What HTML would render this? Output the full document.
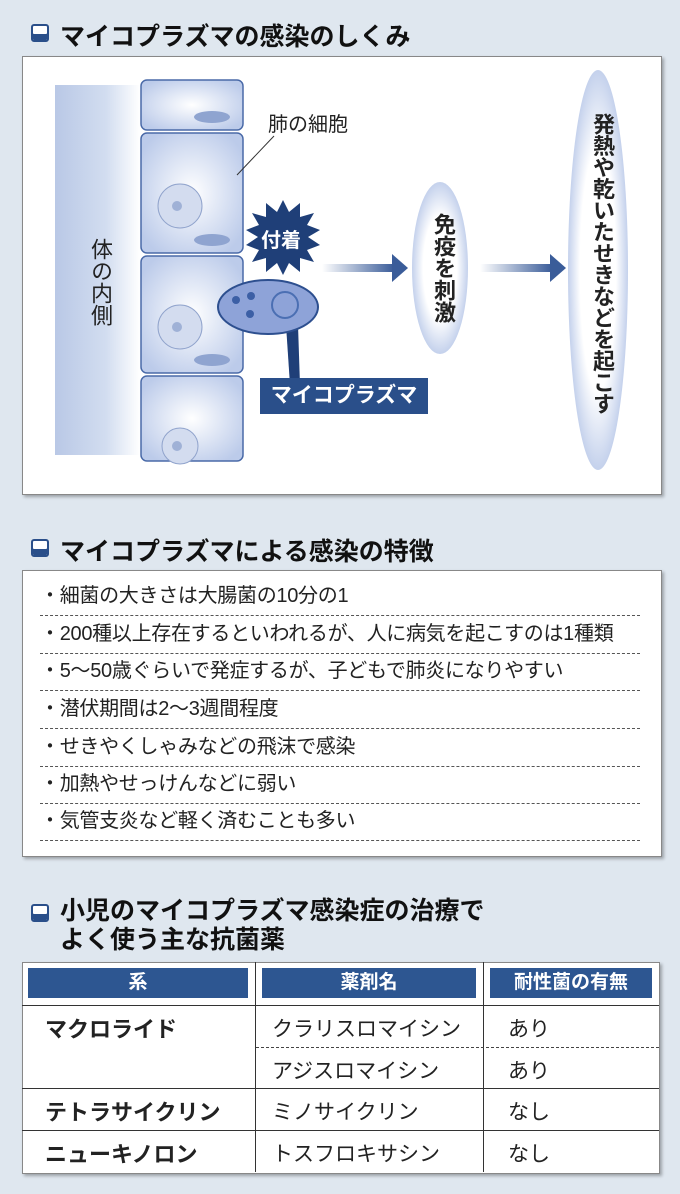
<!DOCTYPE html>
<html><head><meta charset="utf-8"><style>
body{margin:0;width:680px;height:1194px;background:#dfe7ef;position:relative;font-family:"Liberation Sans","Noto Sans CJK JP",sans-serif;overflow:hidden;color:#222}
.a{position:absolute}
.t{font-size:25px;font-weight:bold;color:#111;white-space:nowrap}
.ic{width:14px;height:14px;border:2px solid #2a4f8a;background:#fff;border-radius:3px;box-shadow:inset 0 -6px 0 #2a4f8a}
.panel{background:#fff;border:1px solid #888;box-shadow:2px 2px 3px rgba(0,0,0,.3)}
.vt{writing-mode:vertical-rl;white-space:nowrap}
.row{left:40px;font-size:20px;white-space:nowrap;height:37px;width:600px;border-bottom:1px dashed #555;line-height:36px;letter-spacing:-0.3px}
.hd{background:#2d5691;color:#fff;font-weight:bold;font-size:19px;text-align:center;line-height:30px;height:30px;top:968px}
.c{font-size:21px;white-space:nowrap}
.b{font-weight:bold;font-size:22px}
</style></head><body>
<div class="a ic" style="left:31px;top:24px"></div>
<div class="a t" style="left:60px;top:17px">マイコプラズマの感染のしくみ</div>
<div class="a panel" style="left:22px;top:56px;width:638px;height:437px"></div>
<div class="a" style="left:55px;top:85px;width:85px;height:370px;background:linear-gradient(90deg,#b9c8e6,#d2ddf0 60%,#fff)"></div>
<svg class="a" style="left:0;top:0" width="680" height="500">
<defs><radialGradient id="g" cx="50%" cy="50%" r="60%"><stop offset="0" stop-color="#fff"/><stop offset="1" stop-color="#bccbea"/></radialGradient></defs>
<g stroke="#4a6aa8" stroke-width="1.5" fill="url(#g)">
<rect x="141" y="80" width="102" height="50" rx="6"/>
<rect x="141" y="133" width="102" height="120" rx="6"/>
<rect x="141" y="256" width="102" height="117" rx="6"/>
<rect x="141" y="376" width="102" height="85" rx="6"/>
</g>
<g fill="#d3dcef" stroke="#90a3cc">
<circle cx="180" cy="206" r="22"/><circle cx="180" cy="327" r="22"/><circle cx="180" cy="446" r="18"/>
</g>
<g fill="#9fb1d6"><circle cx="177" cy="206" r="5"/><circle cx="177" cy="327" r="5"/><circle cx="177" cy="446" r="5"/></g>
<g fill="#8fa4d0"><ellipse cx="212" cy="240" rx="18" ry="6"/><ellipse cx="212" cy="360" rx="18" ry="6"/><ellipse cx="212" cy="117" rx="18" ry="6"/></g>
<path d="M237 175 L274 136" stroke="#333" stroke-width="1"/>
<polygon fill="#1f3f78" points="283,200 289,212 300,203 300,217 314,213 307,225 320,230 308,237 320,245 307,250 314,262 300,258 300,272 289,263 283,275 277,263 266,272 266,258 252,262 259,250 246,245 258,237 246,230 259,225 252,213 266,217 266,203 277,212"/>
<polygon fill="#1f3f78" points="286,325 298,325 300,385 290,385"/>
<ellipse cx="268" cy="307" rx="50" ry="27" fill="#8ea3d8" stroke="#2d4f8f" stroke-width="2"/>
<g fill="#3c5fa5"><circle cx="236" cy="300" r="4"/><circle cx="251" cy="296" r="4"/><circle cx="250" cy="314" r="4"/></g>
<circle cx="285" cy="305" r="13" fill="none" stroke="#4b6fb3" stroke-width="2"/>
<defs><linearGradient id="ar" x1="0" x2="1"><stop offset="0" stop-color="#fff"/><stop offset="1" stop-color="#3a5c99"/></linearGradient></defs>
<rect x="322" y="264" width="72" height="8" fill="url(#ar)"/>
<polygon points="392,254 408,268 392,282" fill="#3a5c99"/>
<rect x="480" y="264" width="72" height="8" fill="url(#ar)"/>
<polygon points="550,254 566,268 550,282" fill="#3a5c99"/>
<defs><radialGradient id="e"><stop offset=".6" stop-color="#fff"/><stop offset="1" stop-color="#c4d1ec"/></radialGradient></defs>
<ellipse cx="440" cy="268" rx="28" ry="86" fill="url(#e)"/>
<ellipse cx="598" cy="270" rx="30" ry="200" fill="url(#e)"/>
</svg>
<div class="a" style="left:268px;top:108px;font-size:20px">肺の細胞</div>
<div class="a vt" style="left:84px;top:238px;font-size:22px">体の内側</div>
<div class="a" style="left:261px;top:224px;font-size:20px;font-weight:bold;color:#fff">付着</div>
<div class="a" style="left:260px;top:378px;width:168px;height:36px;background:#2a4f8a;color:#fff;font-weight:bold;font-size:21px;text-align:center;line-height:36px">マイコプラズマ</div>
<div class="a vt" style="left:427px;top:213px;font-size:22px;font-weight:bold">免疫を刺激</div>
<div class="a vt" style="left:586px;top:113px;font-size:22px;font-weight:bold;letter-spacing:-0.5px">発熱や乾いたせきなどを起こす</div>

<div class="a ic" style="left:31px;top:539px"></div>
<div class="a t" style="left:60px;top:532px">マイコプラズマによる感染の特徴</div>
<div class="a panel" style="left:22px;top:570px;width:638px;height:285px"></div>
<div class="a row" style="top:578px">・細菌の大きさは大腸菌の10分の1</div>
<div class="a row" style="top:616px">・200種以上存在するといわれるが、人に病気を起こすのは1種類</div>
<div class="a row" style="top:653px">・5～50歳ぐらいで発症するが、子どもで肺炎になりやすい</div>
<div class="a row" style="top:691px">・潜伏期間は2～3週間程度</div>
<div class="a row" style="top:729px">・せきやくしゃみなどの飛沫で感染</div>
<div class="a row" style="top:766px">・加熱やせっけんなどに弱い</div>
<div class="a row" style="top:803px">・気管支炎など軽く済むことも多い</div>

<div class="a ic" style="left:31px;top:904px"></div>
<div class="a t" style="left:60px;top:897px;line-height:29px">小児のマイコプラズマ感染症の治療で<br>よく使う主な抗菌薬</div>
<div class="a panel" style="left:22px;top:962px;width:636px;height:210px"></div>
<div class="a hd" style="left:28px;width:220px">系</div>
<div class="a hd" style="left:262px;width:214px">薬剤名</div>
<div class="a hd" style="left:490px;width:162px">耐性菌の有無</div>
<div class="a" style="left:255px;top:962px;width:1px;height:210px;background:#333"></div>
<div class="a" style="left:483px;top:962px;width:1px;height:210px;background:#333"></div>
<div class="a" style="left:22px;top:1005px;width:637px;height:1px;background:#333"></div>
<div class="a" style="left:256px;top:1047px;width:403px;border-top:1px dashed #444"></div>
<div class="a" style="left:22px;top:1088px;width:637px;height:1px;background:#333"></div>
<div class="a" style="left:22px;top:1130px;width:637px;height:1px;background:#333"></div>
<div class="a c b" style="left:45px;top:1012px">マクロライド</div>
<div class="a c b" style="left:45px;top:1095px">テトラサイクリン</div>
<div class="a c b" style="left:45px;top:1137px">ニューキノロン</div>
<div class="a c" style="left:272px;top:1013px">クラリスロマイシン</div>
<div class="a c" style="left:272px;top:1055px">アジスロマイシン</div>
<div class="a c" style="left:272px;top:1096px">ミノサイクリン</div>
<div class="a c" style="left:272px;top:1138px">トスフロキサシン</div>
<div class="a c" style="left:508px;top:1013px">あり</div>
<div class="a c" style="left:508px;top:1055px">あり</div>
<div class="a c" style="left:508px;top:1096px">なし</div>
<div class="a c" style="left:508px;top:1138px">なし</div>
</body></html>
